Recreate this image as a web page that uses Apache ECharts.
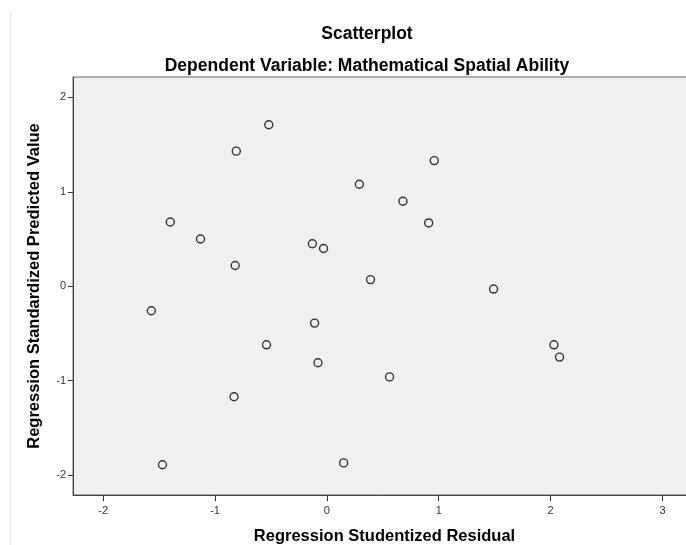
<!DOCTYPE html>
<html>
<head>
<meta charset="utf-8">
<script src="https://cdn.jsdelivr.net/npm/echarts@6/dist/echarts.min.js"></script>
<style>
html,body{margin:0;padding:0;background:#fff;}
#c{width:686px;height:545px;}
</style>
</head>
<body>
<div id="c"></div>
<script>
// Regression Studentized Residual (x) vs Regression Standardized Predicted Value (y)
var residuals = [-0.52, -0.81, 0.96, 0.29, 0.68, -1.40, 0.91, -1.13, -0.13, -0.03, -0.82, 0.39, 1.49, -1.57, -0.11, -0.54, 2.03, 2.08, -0.08, 0.56, -0.83, -1.47, 0.15];
var predicted = [1.71, 1.43, 1.33, 1.08, 0.90, 0.68, 0.67, 0.50, 0.45, 0.40, 0.22, 0.07, -0.03, -0.26, -0.39, -0.62, -0.62, -0.75, -0.81, -0.96, -1.17, -1.89, -1.87];
var xTicks = [-2, -1, 0, 1, 2, 3];
var yTicks = [-2, -1, 0, 1, 2];

var points = residuals.map(function (x, i) { return [x, predicted[i]]; });
var chart = echarts.init(document.getElementById('c'), null, {renderer: 'canvas'});
var fontFam = '"Liberation Sans", Arial, sans-serif';
chart.setOption({
  animation: false,
  backgroundColor: '#ffffff',
  title: [
    {text: 'Scatterplot', left: 362, top: 20, textAlign: 'center',
     textStyle: {fontFamily: fontFam, fontSize: 17.5, fontWeight: 'bold', color: '#000'}},
    {text: 'Dependent Variable: Mathematical Spatial Ability', left: 362, top: 52, textAlign: 'center',
     textStyle: {fontFamily: fontFam, fontSize: 17.5, fontWeight: 'bold', color: '#000'}}
  ],
  graphic: [
    {type: 'line', shape: {x1: 10.5, y1: 12, x2: 10.5, y2: 545}, style: {stroke: '#dceaf5', lineWidth: 1}, silent: true}
  ],
  grid: {
    left: 73, top: 77, bottom: 50, width: 623,
    outerBoundsMode: 'none', containLabel: false,
    show: true, backgroundColor: '#f0f0f0', borderColor: '#666', borderWidth: 1
  },
  xAxis: {
    type: 'value', min: -2.27, max: 3.3,
    name: 'Regression Studentized Residual',
    nameLocation: 'middle', nameGap: 33,
    nameTextStyle: {fontFamily: fontFam, fontSize: 16.5, fontWeight: 'bold', color: '#000'},
    axisLine: {show: true, onZero: false, lineStyle: {color: '#444', width: 1}},
    axisTick: {show: true, length: 6, lineStyle: {color: '#333'}, customValues: xTicks},
    axisLabel: {fontFamily: fontFam, fontSize: 11, color: '#333', margin: 10, customValues: xTicks,
                formatter: function (v) { return String(v); }},
    splitLine: {show: false}
  },
  yAxis: {
    type: 'value', min: -2.21, max: 2.215,
    name: 'Regression Standardized Predicted Value',
    nameLocation: 'middle', nameGap: 30, nameRotate: 90,
    nameTextStyle: {fontFamily: fontFam, fontSize: 16.5, fontWeight: 'bold', color: '#000'},
    axisLine: {show: true, onZero: false, lineStyle: {color: '#444', width: 1}},
    axisTick: {show: true, length: 5, lineStyle: {color: '#333'}, customValues: yTicks},
    axisLabel: {fontFamily: fontFam, fontSize: 11, color: '#333', margin: 7, customValues: yTicks,
                formatter: function (v) { return String(v); }},
    splitLine: {show: false}
  },
  series: [{
    type: 'scatter',
    data: points,
    symbol: 'circle',
    symbolSize: 8,
    itemStyle: {color: '#f0f0f0', borderColor: '#333', borderWidth: 1.4, opacity: 1}
  }]
});
</script>
</body>
</html>
